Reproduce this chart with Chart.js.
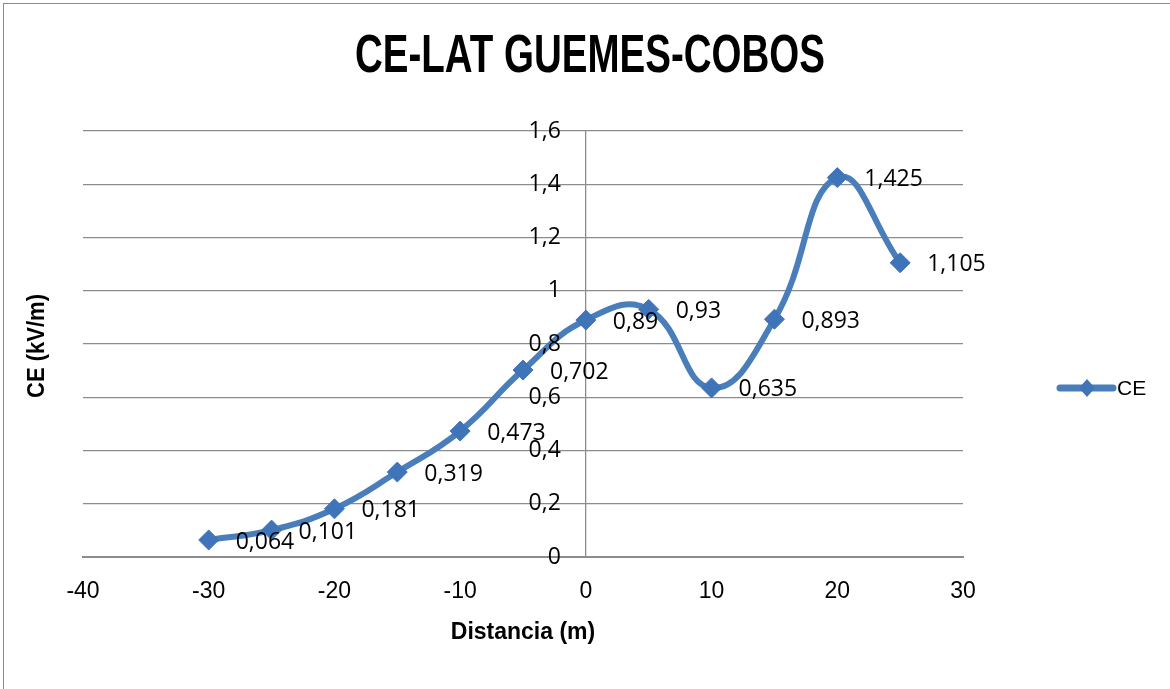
<!DOCTYPE html>
<html>
<head>
<meta charset="utf-8">
<script src="https://cdn.jsdelivr.net/npm/chart.js@4.4.1/dist/chart.umd.min.js"></script>
<style>
html, body { margin: 0; padding: 0; background: #fff; overflow: hidden; }
#wrap { position: relative; width: 1170px; height: 689px; }
#frame { position: absolute; left: 3px; top: 3px; width: 1200px; height: 720px; border: 1px solid #8c8c8c; box-sizing: border-box; }
canvas { position: absolute; left: 0; top: 0; }
</style>
</head>
<body>
<div id="wrap">
  <div id="frame"></div>
  <canvas id="chart" width="1170" height="689"></canvas>
</div>
<script>
const distances = [-30, -25, -20, -15, -10, -5, 0, 5, 10, 15, 20, 25];
const ceValues = [0.064, 0.101, 0.181, 0.319, 0.473, 0.702, 0.89, 0.93, 0.635, 0.893, 1.425, 1.105];
const chartTitle = 'CE-LAT GUEMES-COBOS';
const xTitle = 'Distancia (m)';
const yTitle = 'CE (kV/m)';
const seriesName = 'CE';
const xRange = [-40, 30, 10];
const yRange = [0, 1.6, 0.2];

const lineColor = '#4a7ebb';
const markerColor = '#3f74b9';
const gridColor = '#8c8c8c';

function fmt(v) {
    return String(Math.round(v * 1000) / 1000).replace('.', ',');
}

// title, y axis labels + title, point labels and legend
const extras = {
    id: 'extras',
    afterDraw(chart) {
        const ctx = chart.ctx;
        ctx.save();
        ctx.fillStyle = '#000';

        ctx.font = 'bold 53px "Liberation Sans", Arial, sans-serif';
        ctx.textAlign = 'center';
        ctx.textBaseline = 'alphabetic';
        ctx.fillText(chartTitle, 590, 72, 470);

        // y tick labels sit left of the x=0 axis
        const ys = chart.scales.y;
        const axisX = chart.scales.x.getPixelForValue(0);
        ctx.font = '23px "Open Sans", sans-serif';
        ctx.textAlign = 'right';
        ctx.textBaseline = 'middle';
        ys.ticks.forEach(t => {
            ctx.fillText(fmt(t.value), axisX - 25, ys.getPixelForValue(t.value));
        });

        ctx.save();
        ctx.translate(44, 346);
        ctx.rotate(-Math.PI / 2);
        ctx.font = 'bold 23px "Liberation Sans", Arial, sans-serif';
        ctx.textAlign = 'center';
        ctx.textBaseline = 'alphabetic';
        ctx.fillText(yTitle, 0, 0, 104);
        ctx.restore();

        const meta = chart.getDatasetMeta(0);
        ctx.font = '23px "Open Sans", sans-serif';
        ctx.textAlign = 'left';
        ctx.textBaseline = 'middle';
        meta.data.forEach((pt, i) => {
            ctx.fillText(fmt(ceValues[i]), pt.x + 27, pt.y + 2);
        });

        // legend
        const ly = 388;
        ctx.strokeStyle = lineColor;
        ctx.lineWidth = 7;
        ctx.lineCap = 'round';
        ctx.beginPath();
        ctx.moveTo(1060, ly);
        ctx.lineTo(1113, ly);
        ctx.stroke();
        ctx.fillStyle = markerColor;
        ctx.beginPath();
        ctx.moveTo(1087, ly - 9);
        ctx.lineTo(1095, ly);
        ctx.lineTo(1087, ly + 9);
        ctx.lineTo(1079, ly);
        ctx.closePath();
        ctx.fill();
        ctx.fillStyle = '#000';
        ctx.font = '21px "Liberation Sans", Arial, sans-serif';
        ctx.textAlign = 'left';
        ctx.fillText(seriesName, 1117, ly + 1);
        ctx.restore();
    }
};

const ctx = document.getElementById('chart').getContext('2d');
const ceChart = new Chart(ctx, {
    type: 'scatter',
    data: {
        datasets: [{
            label: seriesName,
            data: distances.map((d, i) => ({ x: d, y: ceValues[i] })),
            showLine: true,
            borderColor: lineColor,
            borderWidth: 6,
            tension: 0.45,
            pointStyle: 'rectRot',
            pointRadius: 10,
            pointBackgroundColor: markerColor,
            pointBorderColor: markerColor,
            pointBorderWidth: 1,
            clip: false
        }]
    },
    options: {
        responsive: false,
        animation: false,
        devicePixelRatio: 1,
        layout: { padding: { top: 131, left: 83, right: 207, bottom: 0 } },
        plugins: {
            legend: { display: false },
            title: { display: false },
            tooltip: { enabled: false }
        },
        scales: {
            x: {
                type: 'linear',
                position: 'bottom',
                min: xRange[0],
                max: xRange[1],
                afterFit(scale) { scale.height = 132; },
                ticks: {
                    stepSize: xRange[2],
                    color: '#000',
                    padding: 21,
                    font: { family: '"Liberation Sans", Arial, sans-serif', size: 23 }
                },
                grid: { display: false, drawTicks: false },
                border: { display: true, color: gridColor, width: 2 },
                title: {
                    display: true,
                    text: xTitle,
                    color: '#000',
                    padding: { top: 0, bottom: 43 },
                    font: { family: '"Liberation Sans", Arial, sans-serif', size: 23, weight: 'bold' }
                }
            },
            y: {
                type: 'linear',
                position: { x: 0 },
                min: yRange[0],
                max: yRange[1],
                ticks: {
                    stepSize: yRange[2],
                    display: false
                },
                grid: { color: gridColor, lineWidth: 1.3, drawTicks: false },
                border: { display: true, color: gridColor, width: 1.3 }
            }
        }
    },
    plugins: [extras]
});
</script>
</body>
</html>
